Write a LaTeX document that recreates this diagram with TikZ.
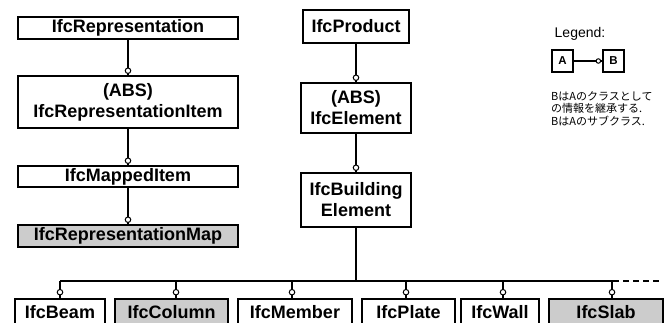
\documentclass[tikz,border=0pt]{standalone}
\usepackage{fontspec}
\setmainfont{Liberation Sans}
\newfontfamily\cjk{Noto Sans CJK JP}
\usetikzlibrary{calc}
\definecolor{boxgray}{RGB}{204,204,204}
\begin{document}
\begin{tikzpicture}[x=1pt,y=-1pt,
  cls/.style={draw, line width=1.6pt, fill=white, inner sep=0pt, align=center,
    font=\fontsize{18}{21}\selectfont\bfseries},
  grey/.style={fill=boxgray},
  conn/.style={line width=1.6pt},
  inh/.style={circle, draw, fill=white, line width=1pt, inner sep=0pt, minimum size=5.5pt},
  lbox/.style={draw, line width=1.3pt, inner sep=0pt, minimum width=21pt, minimum height=22pt,
    font=\fontsize{11.5}{13}\selectfont\bfseries}]
\useasboundingbox (0,0) rectangle (672,323);

% representation chain
\node[cls, minimum width=220pt, minimum height=22pt] (rep) at (128,28) {IfcRepresentation};
\node[cls, minimum width=220pt, minimum height=52pt] (item) at (128,102) {(ABS)\\IfcRepresentationItem};
\node[cls, minimum width=220pt, minimum height=21pt] (mapped) at (128,176.5) {IfcMappedItem};
\node[cls, grey, minimum width=220pt, minimum height=22pt] (map) at (128,236) {IfcRepresentationMap};

% product chain
\node[cls, minimum width=106pt, minimum height=33pt] (prod) at (356,26.5) {IfcProduct};
\node[cls, minimum width=110pt, minimum height=50pt] (elem) at (356,108) {(ABS)\\IfcElement};
\node[cls, minimum width=110pt, minimum height=54pt] (bel) at (356,200) {IfcBuilding\\Element};

% building element subtypes
\node[cls, minimum width=90pt, minimum height=27pt] (beam) at (60,312.5) {IfcBeam};
\node[cls, grey, minimum width=113pt, minimum height=27pt] (column) at (171.5,312.5) {IfcColumn};
\node[cls, minimum width=114pt, minimum height=27pt] (member) at (295,312.5) {IfcMember};
\node[cls, minimum width=93pt, minimum height=27pt] (plate) at (408.5,312.5) {IfcPlate};
\node[cls, minimum width=78pt, minimum height=27pt] (wall) at (500,312.5) {IfcWall};
\node[cls, grey, minimum width=114pt, minimum height=27pt] (slab) at (606,312.5) {IfcSlab};

% vertical inheritance links
\foreach \a/\b in {rep/item, item/mapped, mapped/map, prod/elem, elem/bel}{
  \draw[conn] (\a.south) -- (\b.north);
  \node[inh] at ($(\b.north)+(0,-4.5)$) {};
}

% bus to the subtypes
\coordinate (busL) at (60,281);
\coordinate (busR) at (613,281);
\coordinate (busEnd) at (662,281);
\draw[conn] (bel.south) -- (bel.south |- busL);
\draw[conn] (busL) -- (busR);
\draw[conn, dashed, dash pattern=on 6pt off 4pt] (busR) -- (busEnd);
\foreach \c/\x in {beam/60, column/176, member/292, plate/406, wall/503, slab/612}{
  \coordinate (tap-\c) at (\x,281);
  \draw[conn] (tap-\c) -- (tap-\c |- \c.north);
  \node[inh] at ($(tap-\c |- \c.north)+(0,-6)$) {};
}

% legend
\node[font=\fontsize{14}{16}\selectfont] (legend) at (580,34) {Legend:};
\node[lbox] (la) at (562.5,61) {A};
\node[lbox] (lb) at (613.5,61) {B};
\draw[line width=1.3pt] (la.east) -- (lb.west);
\node[inh, minimum size=4.5pt] at ($(lb.west)+(-4,0)$) {};
\node[anchor=north west, inner sep=0pt, align=left, font=\cjk\fontsize{11}{12.5}\selectfont] (note) at (551,91)
  {BはAのクラスとして\\の情報を継承する.\\BはAのサブクラス.};
\end{tikzpicture}
\end{document}
